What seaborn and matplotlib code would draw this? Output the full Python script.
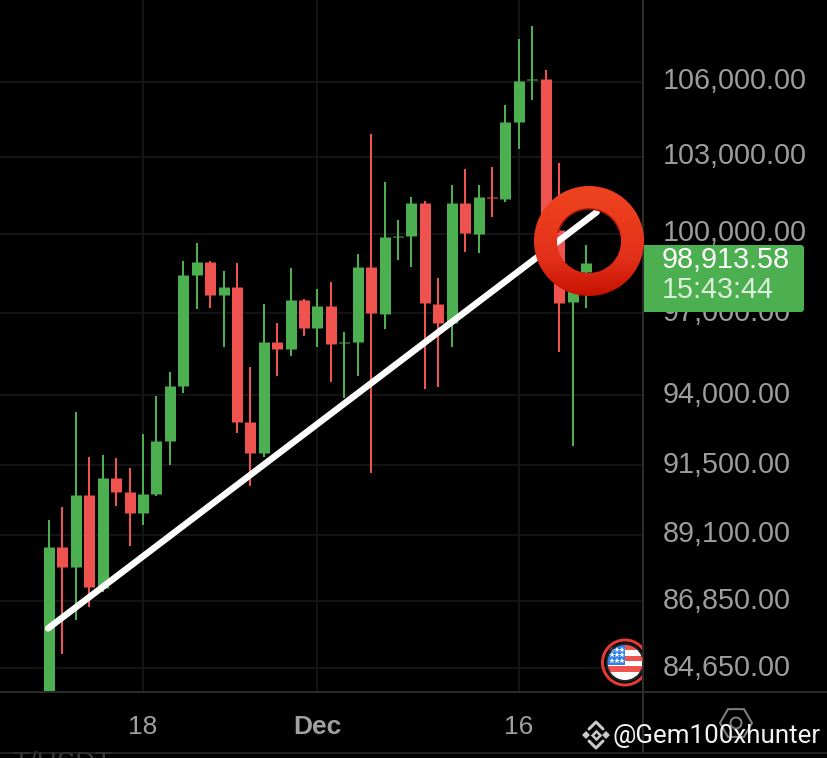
import numpy as np
import pandas as pd
import seaborn as sns
import matplotlib
matplotlib.use("Agg")
import matplotlib.pyplot as plt
from matplotlib import patches
from matplotlib.colors import LinearSegmentedColormap
from matplotlib.ticker import FixedLocator, FixedFormatter, NullLocator
from matplotlib.transforms import ScaledTranslation

# ---------- data ----------
opens = [83800, 88684, 88006, 90470, 87300, 91062, 90575, 89848, 90505, 92364, 94333,
         98436, 98928, 97684, 97981, 93038, 91940, 95938, 95681, 97496, 96455, 97272,
         95901, 95938, 98739, 96974, 99880, 99920, 101192, 97347, 96640, 101192, 99996,
         101426, 101348, 104386, 106082, 106123, 100150, 97421, 98549]
highs = [89607, 90055, 93396, 91798, 91870, 91763, 91412, 92612, 93972, 94840, 98966,
         99652, 98966, 98587, 98890, 95022, 97347, 96640, 98701, 97533, 97909, 98171,
         96307, 99232, 103906, 102011, 100535, 101426, 101270, 98323, 101894, 102520, 101894,
         102598, 105069, 107763, 108302, 106490, 102757, 98549, 99575]
lows = [83800, 85118, 86235, 86667, 87166, 90089, 88718, 89435, 90436, 91517, 94080,
        97160, 97197, 95754, 92647, 90784, 91798, 94695, 95424, 96160, 95754, 94478,
        93899, 94695, 91237, 96418, 99004, 98739, 94224, 94296, 95754, 99308, 99270,
        100651, 101231, 103311, 105271, 99920, 95570, 92187, 97197]
closes = [88684, 88006, 90470, 87334, 91062, 90575, 89848, 90505, 92364, 94333, 98436,
          98928, 97684, 97981, 93038, 91940, 95938, 95681, 97496, 96455, 97272, 95864,
          95938, 98739, 97012, 99880, 99920, 101192, 97384, 96640, 101192, 100035, 101426,
          101387, 104386, 106041, 106123, 100150, 97384, 98549, 98890]
trend_idx = [-0.07, 40.8]
trend_price = [85950, 100840]
price_ticks = [84650, 86850, 89100, 91500, 94000, 97000, 100000, 103000, 106000]
price_labels = ["84,650.00", "86,850.00", "89,100.00", "91,500.00", "94,000.00",
                "97,000.00", "100,000.00", "103,000.00", "106,000.00"]
date_ticks = [7, 20, 35]
date_labels = ["18", "Dec", "16"]
last_price = "98,913.58"
countdown = "15:43:44"
watermark = "@Gem100xhunter"
cut_off_title = "T/USDT"

GREEN, RED = "#4CAF50", "#EF5350"
W, H = 828, 758

sns.set_theme(style="dark", rc={"axes.facecolor": "black", "figure.facecolor": "black"})
plt.rcParams["font.family"] = ["Liberation Sans", "DejaVu Sans"]

fig = plt.figure(figsize=(W / 100, H / 100), dpi=100, facecolor="black")
ax = fig.add_axes([0, (H - 691) / H, 643 / W, 691 / H], facecolor="black")
ax.set_yscale("log")

idx = np.arange(len(opens))
rows_w, rows_b = [], []
for i, o, h, l, c in zip(idx, opens, highs, lows, closes):
    d = "up" if c >= o else "down"
    rows_w += [(i, l, d), (i, h, d)]
    rows_b += [(i, min(o, c), d), (i, max(o, c), d)]
wicks = pd.DataFrame(rows_w, columns=["idx", "price", "dir"])
bodies = pd.DataFrame(rows_b, columns=["idx", "price", "dir"])
pal = {"up": GREEN, "down": RED}
PX = 72 / 100
sns.lineplot(data=wicks, x="idx", y="price", units="idx", estimator=None, hue="dir", palette=pal,
             sort=False, linewidth=2 * PX, solid_capstyle="butt", legend=False, ax=ax, zorder=3)
sns.lineplot(data=bodies, x="idx", y="price", units="idx", estimator=None, hue="dir", palette=pal,
             sort=False, linewidth=11 * PX, solid_capstyle="butt", legend=False, ax=ax, zorder=4)
sns.lineplot(x=trend_idx, y=trend_price, color="white", linewidth=6.5 * PX, ax=ax, zorder=6,
             solid_capstyle="round", legend=False)

ax.set_xlim(-3.65, 44.25)
ax.set_ylim(83910, 109388)
ax.yaxis.tick_right()
ax.yaxis.set_major_locator(FixedLocator(price_ticks))
ax.yaxis.set_major_formatter(FixedFormatter(price_labels))
ax.yaxis.set_minor_locator(NullLocator())
ax.xaxis.set_major_locator(FixedLocator(date_ticks))
ax.xaxis.set_major_formatter(FixedFormatter(date_labels))
ax.xaxis.set_minor_locator(NullLocator())
ax.tick_params(axis="y", length=0, pad=14.3, labelsize=20.7, labelcolor="#9c9c9c")
ax.tick_params(axis="x", length=0, pad=17, labelsize=19, labelcolor="#a0a0a0")
ax.get_xticklabels()[1].set_fontweight("bold")
up = ScaledTranslation(0, 3.5 / 100, fig.dpi_scale_trans)
for lbl in ax.get_yticklabels():
    lbl.set_transform(lbl.get_transform() + up)
ax.grid(True, color="#141414", linewidth=2 * PX)
ax.set_axisbelow(True)
ax.set_xlabel("")
ax.set_ylabel("")
for s in ax.spines.values():
    s.set_visible(False)

# ---------- overlay in picture pixels ----------
ov = fig.add_axes([0, 0, 1, 1], facecolor="none", zorder=5)
ov.set_xlim(0, W)
ov.set_ylim(H, 0)
ov.axis("off")
LINE = "#2c2c2c"
ov.plot([643, 643], [0, 752], color=LINE, lw=2 * PX)
ov.plot([0, W], [691.5, 691.5], color=LINE, lw=2 * PX)
ov.plot([0, W], [752.5, 752.5], color=LINE, lw=1.5 * PX)
ov.text(12, 751, cut_off_title, color="#3a3a3a", fontsize=20, va="top", ha="left", zorder=1)

# last price box
ov.add_patch(patches.Rectangle((644, 245), 10, 67, facecolor=GREEN, edgecolor="none", zorder=6))
ov.add_patch(patches.FancyBboxPatch((648, 245), 156, 67, boxstyle="round,pad=0,rounding_size=3",
                                    facecolor=GREEN, edgecolor="none", zorder=6))
ov.text(662, 260, last_price, color="white", fontsize=20.7, va="center", ha="left", zorder=7)
ov.text(662, 290, countdown, color="#DCEFDC", fontsize=20.7, va="center", ha="left", zorder=7)

# ring
ring = patches.Annulus((589, 241), 55, 23, facecolor="none", edgecolor="none")
ov.add_patch(ring)
cmap = LinearSegmentedColormap.from_list("ring", ["#EF4320", "#EA3A1C", "#E2301A", "#C81000"])
im = ov.imshow(np.linspace(0, 1, 128).reshape(-1, 1), cmap=cmap, extent=(534, 644, 296, 186),
               aspect="auto", zorder=8)
im.set_clip_path(ring)
ov.add_patch(patches.Arc((589, 241), 64, 64, theta1=195, theta2=345, color="#9A1206", lw=1.5 * PX, zorder=9))
ov.set_xlim(0, W)
ov.set_ylim(H, 0)

# flag icon
clip = patches.Rectangle((590, 630), 52, 70, transform=ov.transData)
fx, fy = 625, 662.5
outer = patches.Circle((fx, fy), 22.5, facecolor="none", edgecolor="#E53935", lw=3 * PX, zorder=6)
ov.add_patch(outer)
outer.set_clip_path(clip)
face = patches.Circle((fx, fy), 18, facecolor="white", edgecolor="none", zorder=6)
ov.add_patch(face)
face.set_clip_path(clip)
for top in [-18, -7, 3.5]:
    st = patches.Rectangle((fx - 19, fy + top), 38, 5.5, facecolor="#EF5350", edgecolor="none", zorder=7)
    ov.add_patch(st)
    st.set_clip_path(face)
canton = patches.Rectangle((fx - 19, fy - 19), 19, 21, facecolor="#2F80ED", edgecolor="none", zorder=8)
ov.add_patch(canton)
canton.set_clip_path(face)
for dy in [-13, -7.5, -2]:
    for dx in [-13, -7.5, -2.5]:
        ov.plot(fx + dx, fy + dy, marker="*", ms=4, color="white", mew=0, zorder=9)
rim = patches.Circle((fx, fy), 18.5, facecolor="none", edgecolor="#222222", lw=2 * PX, zorder=9)
ov.add_patch(rim)
rim.set_clip_path(clip)

# settings icon
ov.add_patch(patches.RegularPolygon((736, 723), 6, radius=16, orientation=np.pi / 6, facecolor="none",
                                    edgecolor="#808080", lw=2 * PX, zorder=2))
ov.add_patch(patches.Circle((736, 723), 5.5, facecolor="none", edgecolor="#808080", lw=2 * PX, zorder=2))

# watermark
wm = "#C9C9C9"
cx, cy = 596, 735
for dx in (-10, 10):
    ov.plot(cx + dx, cy, marker="D", ms=4, color=wm, mew=0, zorder=10)
ov.plot(cx, cy, marker="D", ms=4.5, mfc="none", mec=wm, mew=1.8, zorder=10)
ov.plot([cx - 7, cx, cx + 7], [cy - 6, cy - 13, cy - 6], color=wm, lw=3 * PX, zorder=10)
ov.plot([cx - 7, cx, cx + 7], [cy + 6, cy + 13, cy + 6], color=wm, lw=3 * PX, zorder=10)
ov.text(613, 736, watermark, color="#F2F2F2", fontsize=18.7, family=["Roboto", "DejaVu Sans"],
        va="center", ha="left", zorder=10)

fig.savefig("out.png", dpi=100, facecolor="black")
